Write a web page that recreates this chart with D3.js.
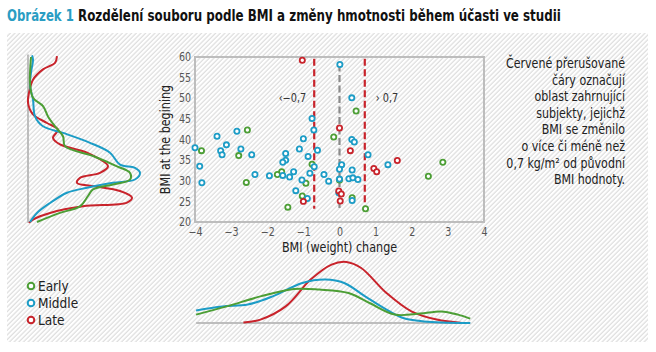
<!DOCTYPE html>
<html>
<head>
<meta charset="utf-8">
<style>
body{
    margin:0;
    background:#fff;
}
svg{ display:block; }
text{ font-family:"Liberation Sans Narrow","DejaVu Sans Condensed","Roboto",sans-serif; }
</style>
<title>Obrázek 1</title>
</head>
<body>
<svg id="chart" width="656" height="352"></svg>
<script src="https://cdn.jsdelivr.net/npm/d3@7"></script>
<script>
// ---- data ----
var groups = ['Early','Middle','Late'];
var groupColor = {Early:'#4c9e35', Middle:'#1c9cc6', Late:'#c8232b'};

// [BMI change, BMI at beginning]
var earlyPts = [[-3.82,37.3],[-2.55,42.3],[-2.79,36.1],[-2.58,29.6],[-1.60,32.2],[-1.72,31.5],
    [-0.76,34.0],[-0.93,29.4],[-1.03,26.3],[-1.43,23.6],[0.46,46.9],[-0.16,40.6],[2.86,34.5],
    [2.46,31.1],[0.0,30.2],[0.35,25.9],[0.72,23.2]];
var middlePts = [[-4.0,38.0],[-3.39,40.8],[-3.29,37.3],[-3.25,36.3],[-3.13,38.7],[-2.84,42.0],
    [-2.73,37.7],[-2.43,36.3],[-3.87,33.5],[-3.81,29.5],[-2.34,31.5],[-1.94,31.2],[-1.49,36.6],
    [-1.49,35.0],[-1.57,34.5],[-1.57,31.3],[-1.38,30.9],[-1.27,32.2],[-1.21,27.6],[-1.11,37.7],
    [-1.04,30.2],[-1.0,40.2],[-0.89,25.7],[-0.87,35.9],[-0.82,31.8],[-0.76,45.1],[-0.71,42.3],
    [-0.70,33.4],[-0.61,37.4],[-0.43,31.5],[-0.30,29.9],[0.01,58.2],[0.34,50.1],[0.34,40.0],
    [0.41,39.4],[0.79,36.3],[1.34,33.9],[0.06,33.9],[0.0,32.8],[0.35,32.6],[0.26,30.5],
    [0.37,30.7],[0.51,30.3],[0.0,30.4],[-0.02,27.1],[0.35,25.2]];
var latePts = [[-1.03,59.2],[-1.0,25.0],[0.0,42.8],[0.30,37.3],[1.60,34.9],[0.95,33.0],
    [1.03,32.2],[-0.02,27.5],[0.05,26.8],[0.02,25.1]];

// density of BMI at beginning: [BMI, density]
var earlyBmiDens = [[60,0.003],[56,0.002],[53.7,0.002],[50.1,0.005],[48.1,0.015],[45.6,0.020],[43.2,0.027],
    [40.8,0.035],[38.4,0.037],[36.0,0.065],[33.5,0.089],[31.9,0.102],[30.3,0.102],[29.1,0.085],
    [27.9,0.065],[26.3,0.060],[23.8,0.052],[22.2,0.032],[20,0.009]];
var middleBmiDens = [[60.4,0.004],[59.4,0.005],[56.2,0.003],[53,0.002],[49.7,0.005],[45.6,0.007],
    [43.2,0.015],[41.6,0.035],[39.2,0.062],[36.8,0.082],[33.9,0.092],[33.1,0.107],[31.9,0.112],
    [30.3,0.107],[29.5,0.085],[28.3,0.059],[27.1,0.039],[24.6,0.022],[22.2,0.009],[20,0.002]];
var lateBmiDens = [[60.2,0.029],[58.6,0.027],[57,0.015],[54.5,0.005],[51.3,0.001],[48.9,0.0],
    [46.1,0.005],[44.0,0.019],[42.4,0.030],[40.4,0.025],[38.8,0.032],[36.8,0.059],[33.5,0.080],
    [31.9,0.072],[30.7,0.052],[29.5,0.049],[28.7,0.065],[27.5,0.092],[25.9,0.104],[24.7,0.099],
    [23.8,0.055],[22.2,0.022],[20.6,0.005],[19.8,0.001]];

// density of BMI change: [change, density]
var earlyChgDens = [[-3.97,0.042],[-3.12,0.083],[-2.19,0.133],[-1.26,0.170],[-0.56,0.167],[0.25,0.150],
    [0.83,0.100],[1.53,0.042],[2.23,0.047],[2.81,0.058],[3.28,0.042],[3.62,0.022]];
var middleChgDens = [[-3.97,0.063],[-3.24,0.083],[-2.54,0.092],[-1.85,0.133],[-1.03,0.200],[-0.39,0.217],
    [0.13,0.200],[0.71,0.133],[1.30,0.067],[1.76,0.025],[2.34,0.008],[3.62,0.0]];
var lateChgDens = [[-2.66,0.003],[-2.19,0.017],[-1.49,0.083],[-0.80,0.217],[-0.22,0.292],[0.19,0.305],
    [0.60,0.275],[1.30,0.150],[1.99,0.058],[2.69,0.017],[3.39,0.0]];

var bmiTicks = [20,25,30,35,40,45,50,55,60];
var changeTicks = [-4,-3,-2,-1,0,1,2,3,4];
var cutOffs = [-0.7, 0.7];

var noteLines = ['Červené přerušované','čáry označují','oblast zahrnující','subjekty, jejichž',
    'BMI se změnilo','o více či méně než','0,7 kg/m² od původní','BMI hodnoty.'];

var pts = {Early:earlyPts, Middle:middlePts, Late:latePts};
var bmiDens = {Early:earlyBmiDens, Middle:middleBmiDens, Late:lateBmiDens};
var chgDens = {Early:earlyChgDens, Middle:middleChgDens, Late:lateChgDens};

// squeeze text horizontally (reference uses a condensed face)
function condense(sel, k){
    sel.each(function(){
        var w = this.getComputedTextLength();
        d3.select(this).attr('textLength', w * k).attr('lengthAdjust','spacingAndGlyphs');
    });
}

// fit a text to a width by shrinking the font and stretching it back vertically
function fitWidth(t, px, py, fs0, targetW){
    t.style('font-size', fs0 + 'px');
    var w = t.node().getComputedTextLength();
    var fs = fs0 * targetW / w;
    t.style('font-size', fs + 'px')
        .attr('transform','translate(' + px + ',' + py + ') scale(1,' + (fs0 / fs) + ')');
}

// ---- drawing ----
var svg = d3.select('#chart');

// hatched background
var defs = svg.append('defs');
defs.append('pattern')
    .attr('id','hatch')
    .attr('patternUnits','userSpaceOnUse')
    .attr('width',3.3).attr('height',10)
    .attr('patternTransform','rotate(45)')
  .append('line')
    .attr('x1',1).attr('y1',0).attr('x2',1).attr('y2',10)
    .attr('stroke','#dadada').attr('stroke-width',1.1);
svg.append('rect')
    .attr('x',7).attr('y',33).attr('width',641).attr('height',309)
    .attr('fill','url(#hatch)');

// title (two parts, each squeezed to the reference width)
var t1 = svg.append('text')
    .attr('fill','#2a9dc3').style('font-weight','bold')
    .text('Obrázek 1');
fitWidth(t1, 7, 21, 16.5, 67);
var t2 = svg.append('text')
    .attr('fill','#111').style('font-weight','bold')
    .text('Rozdělení souboru podle BMI a změny hmotnosti během účasti ve studii');
fitWidth(t2, 78, 21, 16.5, 483);

// scales
var x = d3.scaleLinear().domain([-4,4]).range([195,484]);
var y = d3.scaleLinear().domain([20,60]).range([222,57]);

// axes (labels only, frame drawn as rect)
var yAxis = svg.append('g').attr('transform','translate(195,0)')
    .call(d3.axisLeft(y).tickValues(bmiTicks).tickSize(0).tickPadding(4));
var xAxis = svg.append('g').attr('transform','translate(0,222)')
    .call(d3.axisBottom(x).tickValues(changeTicks).tickSize(0).tickPadding(6)
        .tickFormat(function(d){ return d < 0 ? '\u2212' + Math.abs(d) : d; }));
[yAxis, xAxis].forEach(function(a){
    a.select('.domain').remove();
    a.selectAll('text').attr('fill','#555').style('font-size','11.5px')
        .style('font-family','"Liberation Sans Narrow","DejaVu Sans Condensed",sans-serif');
    condense(a.selectAll('text'), 0.92);
});

svg.append('rect')
    .attr('x',x(-4)).attr('y',y(60))
    .attr('width',x(4)-x(-4)).attr('height',y(20)-y(60))
    .attr('fill','none').attr('stroke','#bdbdbd').attr('stroke-width',2);

// axis titles
var yTitle = svg.append('text')
    .attr('transform','translate(170,' + y(40) + ') rotate(-90)')
    .attr('text-anchor','middle').attr('fill','#222').style('font-size','13.5px')
    .text('BMI at the begining');
var xTitle = svg.append('text')
    .attr('x',x(0)).attr('y',252)
    .attr('text-anchor','middle').attr('fill','#222').style('font-size','13.5px')
    .text('BMI (weight) change');
condense(yTitle, 0.92);
condense(xTitle, 0.92);

// reference lines
svg.append('line')
    .attr('x1',x(0)).attr('x2',x(0)).attr('y1',y(58.2)).attr('y2',y(23))
    .attr('stroke','#8a8a8a').attr('stroke-width',2.2).attr('stroke-dasharray','7,3.5');
svg.selectAll('.cut').data(cutOffs).enter().append('line')
    .attr('class','cut')
    .attr('x1',function(d){ return x(d); }).attr('x2',function(d){ return x(d); })
    .attr('y1',y(59.6)).attr('y2',y(23.2))
    .attr('stroke','#c8232b').attr('stroke-width',2.2).attr('stroke-dasharray','7,3.5');

var cutLbl = svg.append('g');
cutLbl.append('text')
    .attr('x',x(-0.7) - 8).attr('y',y(50) + 4)
    .attr('text-anchor','end').attr('fill','#333').style('font-size','12px')
    .text('\u2039\u22120,7');
cutLbl.append('text')
    .attr('x',x(0.7) + 11).attr('y',y(50) + 4)
    .attr('fill','#333').style('font-size','12px')
    .text('\u203a 0,7');
condense(cutLbl.selectAll('text'), 0.9);

// points
groups.forEach(function(g){
    svg.append('g').selectAll('circle').data(pts[g]).enter().append('circle')
        .attr('cx',function(d){ return x(d[0]); })
        .attr('cy',function(d){ return y(d[1]); })
        .attr('r',2.6)
        .attr('fill','#fff')
        .attr('stroke',groupColor[g]).attr('stroke-width',1.8);
});

// left marginal: BMI density
var dx = d3.scaleLinear().domain([0,0.12]).range([28,148]);
svg.append('line')
    .attr('x1',28).attr('x2',28).attr('y1',y(60.6)).attr('y2',y(19.8))
    .attr('stroke','#bdbdbd').attr('stroke-width',2);
var leftLine = d3.line()
    .x(function(d){ return dx(d[1]); })
    .y(function(d){ return y(d[0]); })
    .curve(d3.curveCatmullRom);
['Late','Middle','Early'].forEach(function(g){
    svg.append('path').datum(bmiDens[g])
        .attr('d',leftLine).attr('fill','none')
        .attr('stroke',groupColor[g]).attr('stroke-width',2);
});

// bottom marginal: change density
var dy = d3.scaleLinear().domain([0,0.31]).range([323,261]);
svg.append('line')
    .attr('x1',x(-3.97)).attr('x2',x(3.62)).attr('y1',323).attr('y2',323)
    .attr('stroke','#bdbdbd').attr('stroke-width',2);
var botLine = d3.line()
    .x(function(d){ return x(d[0]); })
    .y(function(d){ return dy(d[1]); })
    .curve(d3.curveCatmullRom);
['Late','Middle','Early'].forEach(function(g){
    svg.append('path').datum(chgDens[g])
        .attr('d',botLine).attr('fill','none')
        .attr('stroke',groupColor[g]).attr('stroke-width',2);
});

// legend
var leg = svg.append('g').selectAll('g').data(groups).enter().append('g')
    .attr('transform',function(d,i){ return 'translate(31,' + (286 + i*17) + ')'; });
leg.append('circle').attr('r',3.3).attr('fill','#fff')
    .attr('stroke',function(d){ return groupColor[d]; }).attr('stroke-width',2);
leg.append('text').attr('x',7).attr('y',4.5)
    .attr('fill','#222').style('font-size','13.5px')
    .text(function(d){ return d; });

// note on the right
var note = svg.append('g').selectAll('text').data(noteLines).enter().append('text')
    .attr('x',625).attr('y',function(d,i){ return 68 + i*16.6; })
    .attr('text-anchor','end').attr('fill','#222').style('font-size','13.5px')
    .text(function(d){ return d; });
condense(note, 0.91);
</script>
</body>
</html>
